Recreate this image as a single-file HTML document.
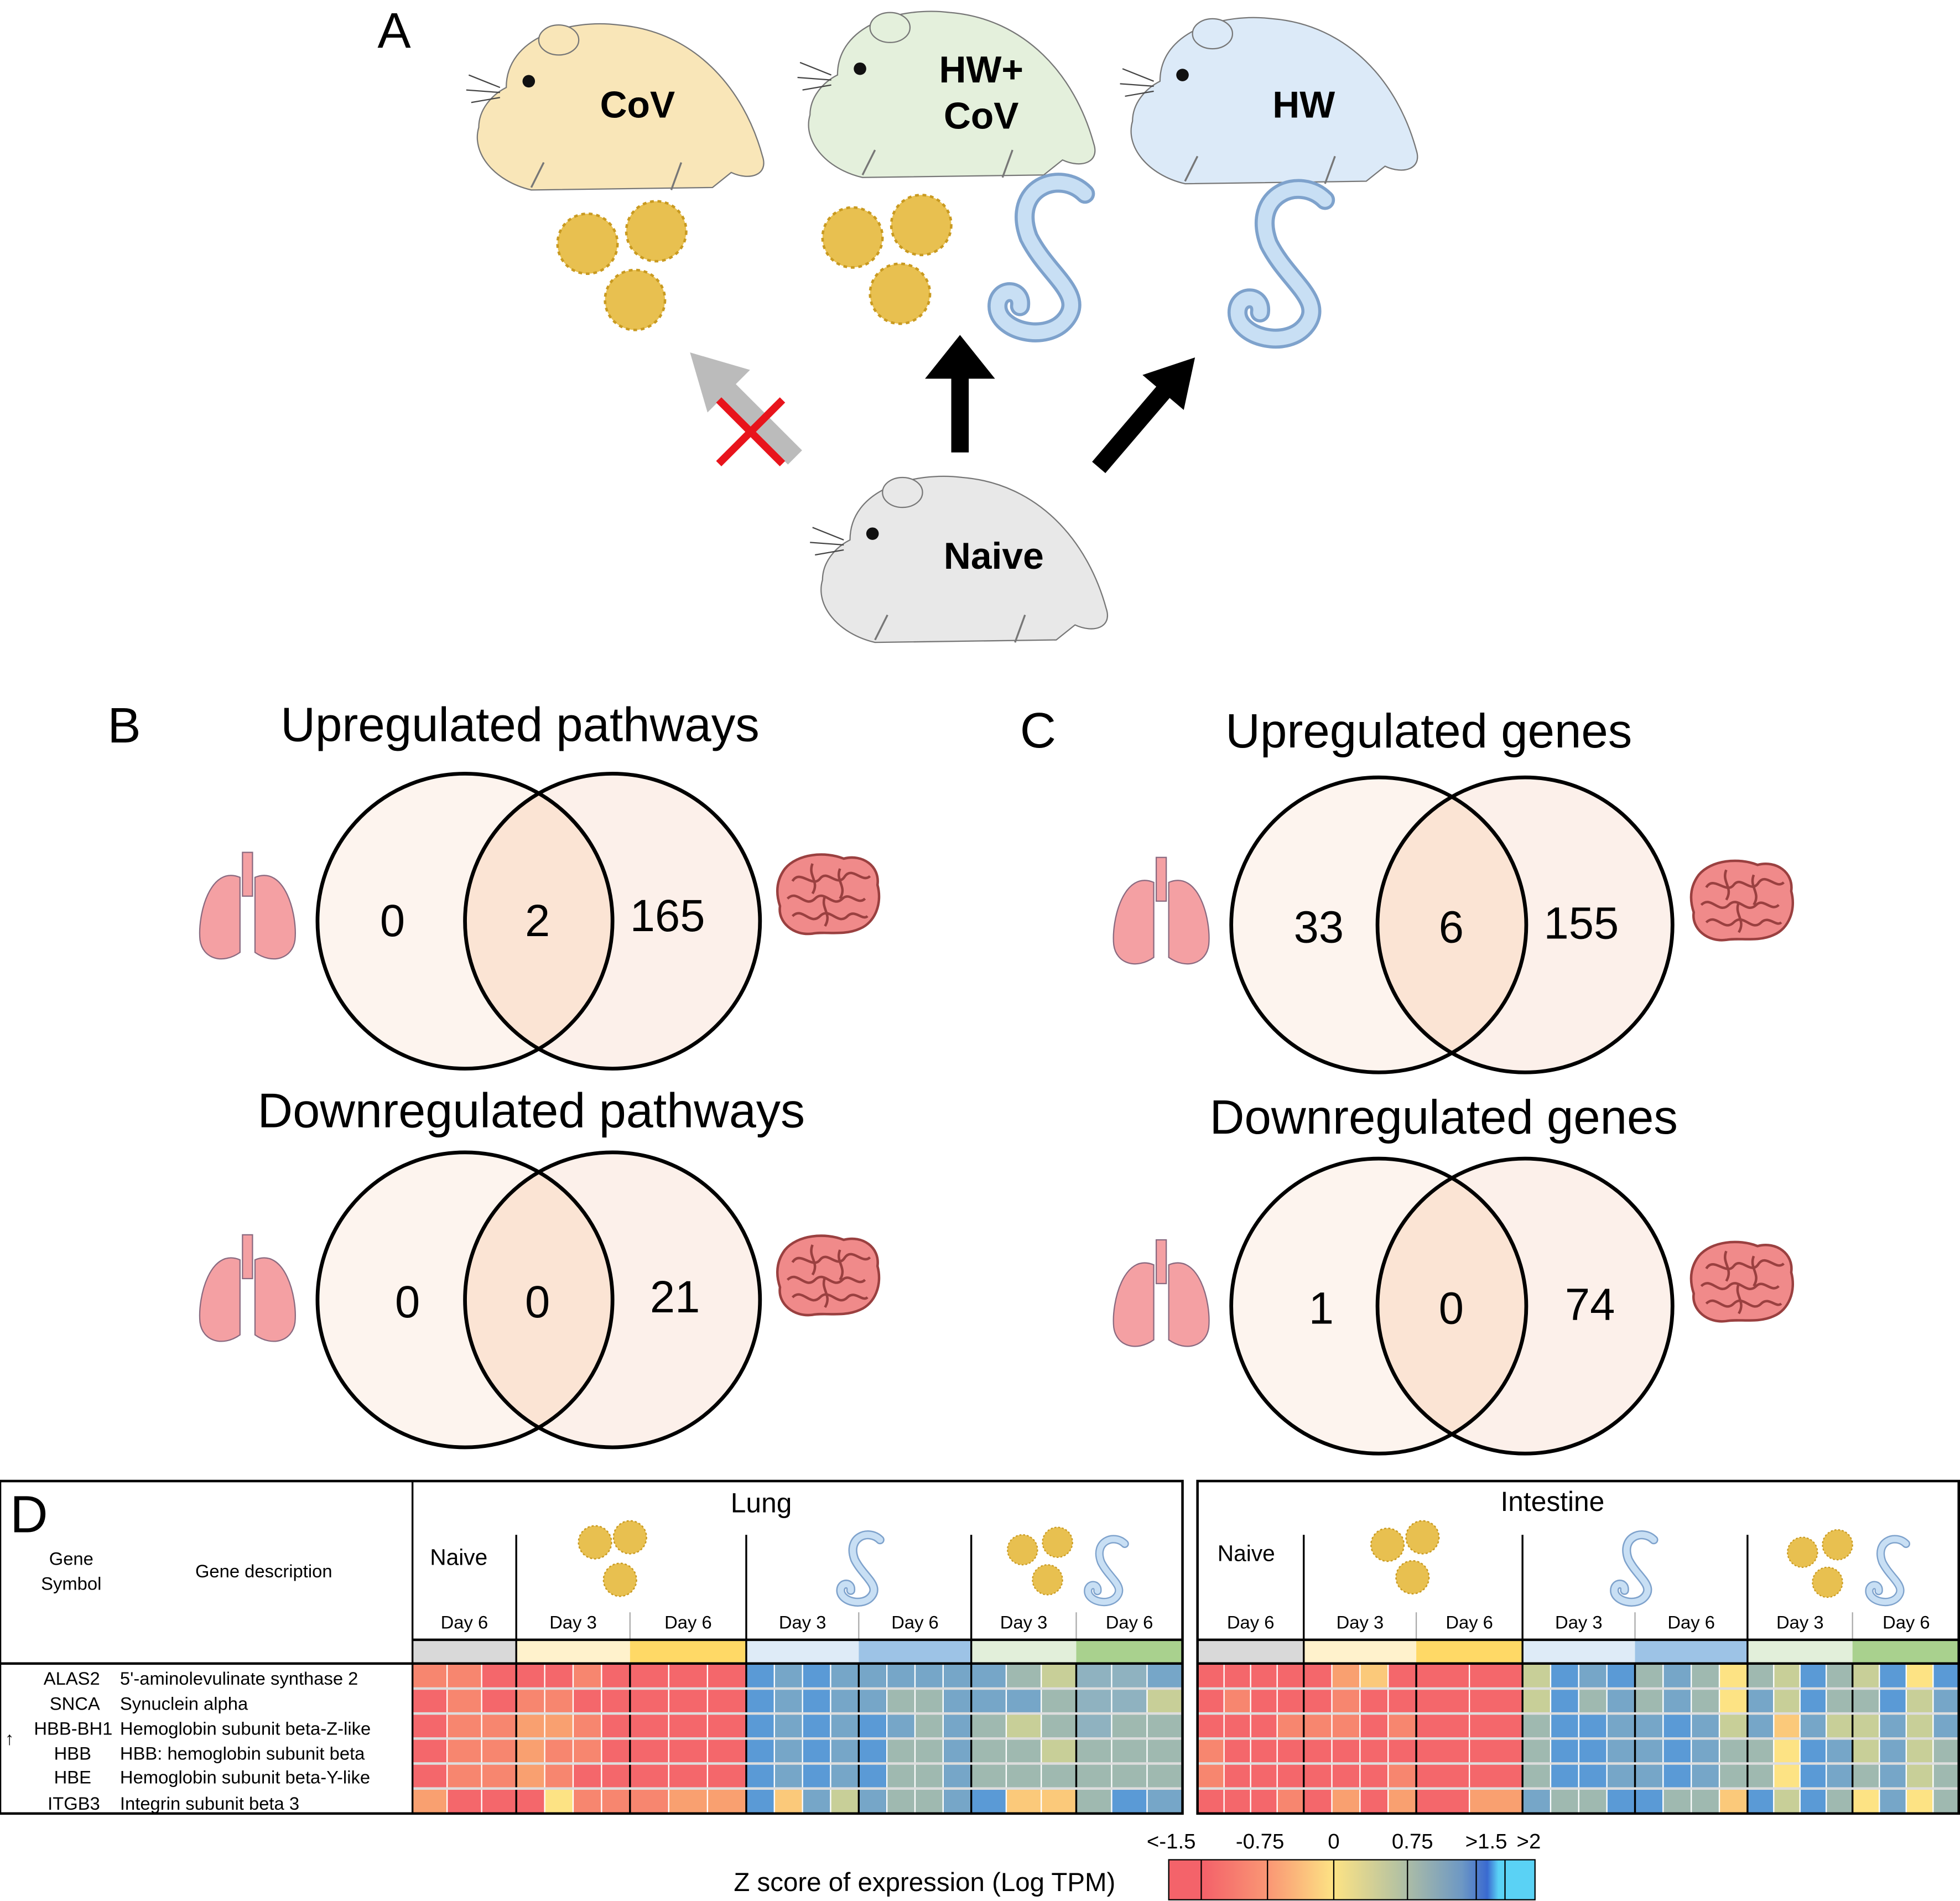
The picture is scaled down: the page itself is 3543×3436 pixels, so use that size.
<!DOCTYPE html>
<html><head><meta charset="utf-8"><style>
html,body{margin:0;padding:0;background:#fff}
svg{display:block}
text{font-family:"Liberation Sans",Arial,sans-serif}
</style></head><body>
<svg id="s" xmlns="http://www.w3.org/2000/svg" width="3543" height="3436" viewBox="0 0 1568 1521" preserveAspectRatio="none">
<defs>
<g id="ham">
<path d="M40,60 C40,20 90,5 130,10 C190,15 230,60 245,115 C250,130 235,135 220,128 L205,140 L60,142 C30,135 12,112 18,92 C18,78 28,66 40,60 Z" stroke="#777" stroke-width="1"/>
<ellipse cx="82" cy="22" rx="16" ry="12" stroke="#777" stroke-width="1"/>
<circle cx="58" cy="55" r="5" fill="#111"/>
<path d="M10,50 L35,60 M8,62 L35,64 M12,72 L35,68" stroke="#444" stroke-width="1"/>
<path d="M70,120 l-10,20 M180,120 l-8,22" stroke="#777" stroke-width="1.5"/>
</g>
<g id="vir" fill="#e8c050" stroke="#c99a20" stroke-width="2" stroke-dasharray="3 3"><circle r="24"/></g>
<path id="worm" d="M40,-40 C20,-60 -20,-45 -5,-5 C10,25 40,40 25,60 C10,80 -30,70 -30,50 C-30,35 -10,35 -12,50" fill="none" stroke="#7ea2cc" stroke-width="16" stroke-linecap="round"/>
<path id="worm2" d="M40,-40 C20,-60 -20,-45 -5,-5 C10,25 40,40 25,60 C10,80 -30,70 -30,50 C-30,35 -10,35 -12,50" fill="none" stroke="#c8dff4" stroke-width="11" stroke-linecap="round"/>
<g id="lung" fill="#f4a0a3" stroke="#8a6a80" stroke-width="1">
<path d="M36,10 L44,10 L44,45 L36,45Z"/>
<path d="M34,30 C10,20 0,60 2,80 C4,95 20,100 34,90Z"/>
<path d="M46,30 C70,20 80,60 78,80 C76,95 60,100 46,90Z"/>
</g>
<g id="gut" fill="#f08a8a" stroke="#9a4040" stroke-width="2">
<path d="M8,12 C18,0 40,-2 55,4 C70,0 84,10 82,25 C86,40 80,55 68,60 C55,66 40,62 30,64 C15,66 2,55 4,42 C0,30 2,20 8,12Z"/>
<path d="M14,22 c6,-10 16,6 22,-2 c6,-8 14,8 20,-2 c6,-8 14,6 20,0 M10,36 c8,-8 14,8 22,0 c8,-8 14,8 22,0 c6,-6 12,6 18,0 M14,50 c8,-8 14,8 22,0 c8,-8 14,8 22,0 c6,-6 12,4 16,0 M30,8 c-4,10 6,14 0,24 M52,12 c-4,10 6,14 0,24 M40,34 c-4,10 6,14 0,24" fill="none"/>
</g>
<linearGradient id="lg" x1="0" x2="1">
<stop offset="0" stop-color="#f4636a"/><stop offset="0.1" stop-color="#f4636a"/><stop offset="0.28" stop-color="#fa9a75"/><stop offset="0.45" stop-color="#fde384"/><stop offset="0.62" stop-color="#b9c4a0"/><stop offset="0.8" stop-color="#6d98c4"/><stop offset="0.87" stop-color="#3a6ad0"/><stop offset="0.9" stop-color="#5ad2f5"/><stop offset="1" stop-color="#5ad2f5"/>
</linearGradient>
</defs>

<text x="302" y="38" font-size="40">A</text>
<use href="#ham" transform="translate(365,10)" fill="#f9e6b8"/>
<text x="510" y="94" font-size="30" font-weight="bold" text-anchor="middle">CoV</text>
<use href="#ham" transform="translate(630,0)" fill="#e4f0dc"/>
<text x="785" y="66" font-size="30" font-weight="bold" text-anchor="middle">HW+</text>
<text x="785" y="103" font-size="30" font-weight="bold" text-anchor="middle">CoV</text>
<use href="#ham" transform="translate(888,5)" fill="#dceaf8"/>
<text x="1043" y="94" font-size="30" font-weight="bold" text-anchor="middle">HW</text>
<use href="#ham" transform="translate(640,372)" fill="#e8e8e8"/>
<text x="795" y="455" font-size="30" font-weight="bold" text-anchor="middle">Naive</text>
<use href="#vir" x="470" y="195"/><use href="#vir" x="525" y="185"/><use href="#vir" x="508" y="240"/>
<use href="#vir" x="682" y="190"/><use href="#vir" x="737" y="180"/><use href="#vir" x="720" y="235"/>
<use href="#worm" x="828" y="195"/><use href="#worm2" x="828" y="195"/>
<use href="#worm" x="1020" y="200"/><use href="#worm2" x="1020" y="200"/>
<line x1="636" y1="366" x2="578" y2="308" stroke="#bbb" stroke-width="16"/>
<polygon points="552,282 600,296 566,330" fill="#bbb"/>
<line x1="575" y1="320" x2="626" y2="371" stroke="#e8141c" stroke-width="6"/>
<line x1="626" y1="320" x2="575" y2="371" stroke="#e8141c" stroke-width="6"/>
<line x1="768" y1="362" x2="768" y2="300" stroke="#000" stroke-width="14"/>
<polygon points="740,303 768,268 796,303" fill="#000"/>
<line x1="879" y1="374" x2="932" y2="312" stroke="#000" stroke-width="14"/>
<polygon points="956,286 947,328 914,300" fill="#000"/>

<text x="86" y="594" font-size="40">B</text>
<text x="816" y="598" font-size="40">C</text>
<g text-anchor="middle">
<text x="416" y="593" font-size="38.5">Upregulated pathways</text>
<text x="425" y="902" font-size="39">Downregulated pathways</text>
<text x="1143" y="598" font-size="38.5">Upregulated genes</text>
<text x="1155" y="907" font-size="38.5">Downregulated genes</text>
</g>
<g id="venns" stroke="#000" stroke-width="3"></g>
<g font-size="36" text-anchor="middle">
<text x="314" y="749">0</text><text x="430" y="749">2</text><text x="534" y="745">165</text>
<text x="326" y="1054">0</text><text x="430" y="1054">0</text><text x="540" y="1050">21</text>
<text x="1055" y="754">33</text><text x="1161" y="754">6</text><text x="1265" y="751">155</text>
<text x="1057" y="1059">1</text><text x="1161" y="1059">0</text><text x="1272" y="1056">74</text>
</g>
<use href="#lung" x="158" y="672"/><use href="#lung" x="158" y="978"/>
<use href="#lung" x="889" y="676"/><use href="#lung" x="889" y="982"/>
<use href="#gut" x="620" y="683"/><use href="#gut" x="620" y="988"/>
<use href="#gut" x="1351" y="688"/><use href="#gut" x="1351" y="993"/>

<g id="heat"></g>
<rect x="0" y="1185" width="946" height="266" fill="none" stroke="#000" stroke-width="2"/>
<line x1="330" y1="1185" x2="330" y2="1451" stroke="#000" stroke-width="1.5"/>
<line x1="0" y1="1331" x2="946" y2="1331" stroke="#000" stroke-width="2"/>
<rect x="958" y="1185" width="609" height="266" fill="none" stroke="#000" stroke-width="2"/>
<line x1="958" y1="1331" x2="1567" y2="1331" stroke="#000" stroke-width="2"/>
<text x="8" y="1226" font-size="42">D</text>
<g font-size="14.5" text-anchor="middle">
<text x="57" y="1252">Gene</text><text x="57" y="1272">Symbol</text>
<text x="211" y="1262">Gene description</text>
</g>
<g font-size="14.5">
<g text-anchor="end"><text x="80" y="1348">ALAS2</text><text x="80" y="1368">SNCA</text><text x="90" y="1388">HBB-BH1</text><text x="73" y="1408">HBB</text><text x="73" y="1427">HBE</text><text x="80" y="1448">ITGB3</text></g>
<text x="96" y="1348">5'-aminolevulinate synthase 2</text>
<text x="96" y="1368">Synuclein alpha</text>
<text x="96" y="1388">Hemoglobin subunit beta-Z-like</text>
<text x="96" y="1408">HBB: hemoglobin subunit beta</text>
<text x="96" y="1427">Hemoglobin subunit beta-Y-like</text>
<text x="96" y="1448">Integrin subunit beta 3</text>
<text x="4" y="1396">↑</text>
</g>
<text x="609" y="1210" font-size="22" text-anchor="middle">Lung</text>
<text x="1242" y="1209" font-size="22" text-anchor="middle">Intestine</text>
<text x="367" y="1252" font-size="18" text-anchor="middle">Naive</text>
<text x="997" y="1249" font-size="18" text-anchor="middle">Naive</text>
<use href="#vir" transform="translate(476,1234) scale(0.55)"/><use href="#vir" transform="translate(504,1230) scale(0.55)"/><use href="#vir" transform="translate(496,1264) scale(0.55)"/>
<use href="#vir" transform="translate(1110,1236) scale(0.55)"/><use href="#vir" transform="translate(1138,1230) scale(0.55)"/><use href="#vir" transform="translate(1130,1262) scale(0.55)"/>
<use href="#vir" transform="translate(818,1240) scale(0.5)"/><use href="#vir" transform="translate(846,1234) scale(0.5)"/><use href="#vir" transform="translate(838,1264) scale(0.5)"/>
<use href="#vir" transform="translate(1442,1242) scale(0.5)"/><use href="#vir" transform="translate(1470,1236) scale(0.5)"/><use href="#vir" transform="translate(1462,1266) scale(0.5)"/>
<g transform="translate(686,1250) scale(0.45)"><use href="#worm"/><use href="#worm2"/></g>
<g transform="translate(883,1252) scale(0.42)"><use href="#worm"/><use href="#worm2"/></g>
<g transform="translate(1305,1250) scale(0.45)"><use href="#worm"/><use href="#worm2"/></g>
<g transform="translate(1508,1252) scale(0.42)"><use href="#worm"/><use href="#worm2"/></g>

<rect x="935" y="1488" width="293" height="32" fill="url(#lg)" stroke="#000" stroke-width="1"/>
<g stroke="#000" stroke-width="1"><line x1="961" y1="1488" x2="961" y2="1520"/><line x1="1014" y1="1488" x2="1014" y2="1520"/><line x1="1067" y1="1488" x2="1067" y2="1520"/><line x1="1126" y1="1488" x2="1126" y2="1520"/><line x1="1181" y1="1488" x2="1181" y2="1520"/><line x1="1204" y1="1488" x2="1204" y2="1520"/></g>
<g font-size="17" text-anchor="middle"><text x="937" y="1479">&lt;-1.5</text><text x="1008" y="1479">-0.75</text><text x="1067" y="1479">0</text><text x="1130" y="1479">0.75</text><text x="1189" y="1479">&gt;1.5</text><text x="1223" y="1479">&gt;2</text></g>
<text x="587" y="1513" font-size="21">Z score of expression (Log TPM)</text>
</svg>
<script>
(function(){
var NS="http://www.w3.org/2000/svg";
function el(p,t,a){var e=document.createElementNS(NS,t);for(var k in a)e.setAttribute(k,a[k]);p.appendChild(e);return e;}
var v=document.getElementById("venns");
var vs=[[372,737,490,737],[372,1040,490,1040],[1103,740,1220,740],[1103,1045,1220,1045]];
for(var q=0;q<vs.length;q++){var c=vs[q];
 el(v,"circle",{cx:c[0],cy:c[1],r:118,fill:"#fdf4ee",stroke:"none"});
 el(v,"circle",{cx:c[2],cy:c[3],r:118,fill:"#fcf0ea",stroke:"none"});
 var id="cp"+q;var cp=el(v,"clipPath",{id:id});el(cp,"circle",{cx:c[0],cy:c[1],r:118});
 el(v,"circle",{cx:c[2],cy:c[3],r:118,fill:"#fbe4d4",stroke:"none","clip-path":"url(#"+id+")"});
 el(v,"circle",{cx:c[0],cy:c[1],r:118,fill:"none"});
 el(v,"circle",{cx:c[2],cy:c[3],r:118,fill:"none"});
}
var C={R:"#f4676b",S:"#f7866f",O:"#f9a070",B:"#5a9ad6",T:"#76a6c8",G:"#9fb9b0",K:"#8fb2c0",Y:"#fde384",L:"#c8cf98",P:"#fbc97a"};
var h=document.getElementById("heat");
var labs=["Day 6","Day 3","Day 6","Day 3","Day 6","Day 3","Day 6"];
function panel(x0,groups,rows,barCols){
 var y0=1331,rh=20,x=x0,ci=0;
 for(var gi=0;gi<groups.length;gi++){
  var g=groups[gi],w=g[1],n=g[0],cw=w/n;
  el(h,"rect",{x:x,y:1312,width:w,height:19,fill:barCols[gi]});
  for(var j=0;j<n;j++){for(var r=0;r<6;r++){
   el(h,"rect",{x:x+j*cw,y:y0+r*rh,width:cw,height:rh,fill:C[rows[r].charAt(ci+j)]||"#ccc",stroke:"#fff","stroke-width":1});}}
  ci+=n;
  var t=el(h,"text",{x:x+w/2,y:1303,"font-size":"14.5","text-anchor":"middle"});t.textContent=labs[gi];
  if(gi>0){var major=(gi%2==1);
   el(h,"line",{x1:x,y1:major?1228:1290,x2:x,y2:major?1451:1312,stroke:major?"#000":"#aaa","stroke-width":major?1.5:1});
   if(!major)el(h,"line",{x1:x,y1:1331,x2:x,y2:1451,stroke:"#000","stroke-width":1.5});}
  x+=w;
 }
 for(var r2=1;r2<6;r2++)el(h,"line",{x1:x0,y1:y0+r2*rh,x2:x,y2:y0+r2*rh,stroke:"#ddd","stroke-width":2});
 el(h,"line",{x1:x0,y1:1312,x2:x,y2:1312,stroke:"#000","stroke-width":2});
}
var bars=["#d9d9d9","#fff2cc","#ffd966","#deebf7","#9dc3e6","#e2efda","#a9d18e"];
panel(330,[[3,83],[4,91],[3,93],[4,90],[4,90],[3,84],[3,85]],[
"SSRRRSRRRRBTBTTTTTTGLKKT",
"RSRSSRRRRRBTBTTGGTTTGKKL",
"RSSOOSRRRRBTBTBTGTGLGKGG",
"RSSOSSRRRRBTBTBGGTGGLGGG",
"RSSOSRRRRRBTBTBGGTGGGGGG",
"ORRRYSSSOOBPTLTGGTBPPGBT"],bars);
panel(958,[[4,85],[4,90],[2,85],[4,90],[4,90],[4,84],[4,86]],[
"RRRRROPRRRLBTBGTGYGLBGLBYB",
"RSRRRSRRRRLBGTGTGYTLBGGBLT",
"RRRSSSRSRRGBBTTBTLTPTLLTLT",
"SRRRRRRRRRGBBTTBTGGYBTLTLG",
"SRRRRRRSRRGBBTTBTGGYBTGTLG",
"RRRSROROROTGGBBGGPBLBGYTYG"],bars);
})();
</script>
</body></html>
